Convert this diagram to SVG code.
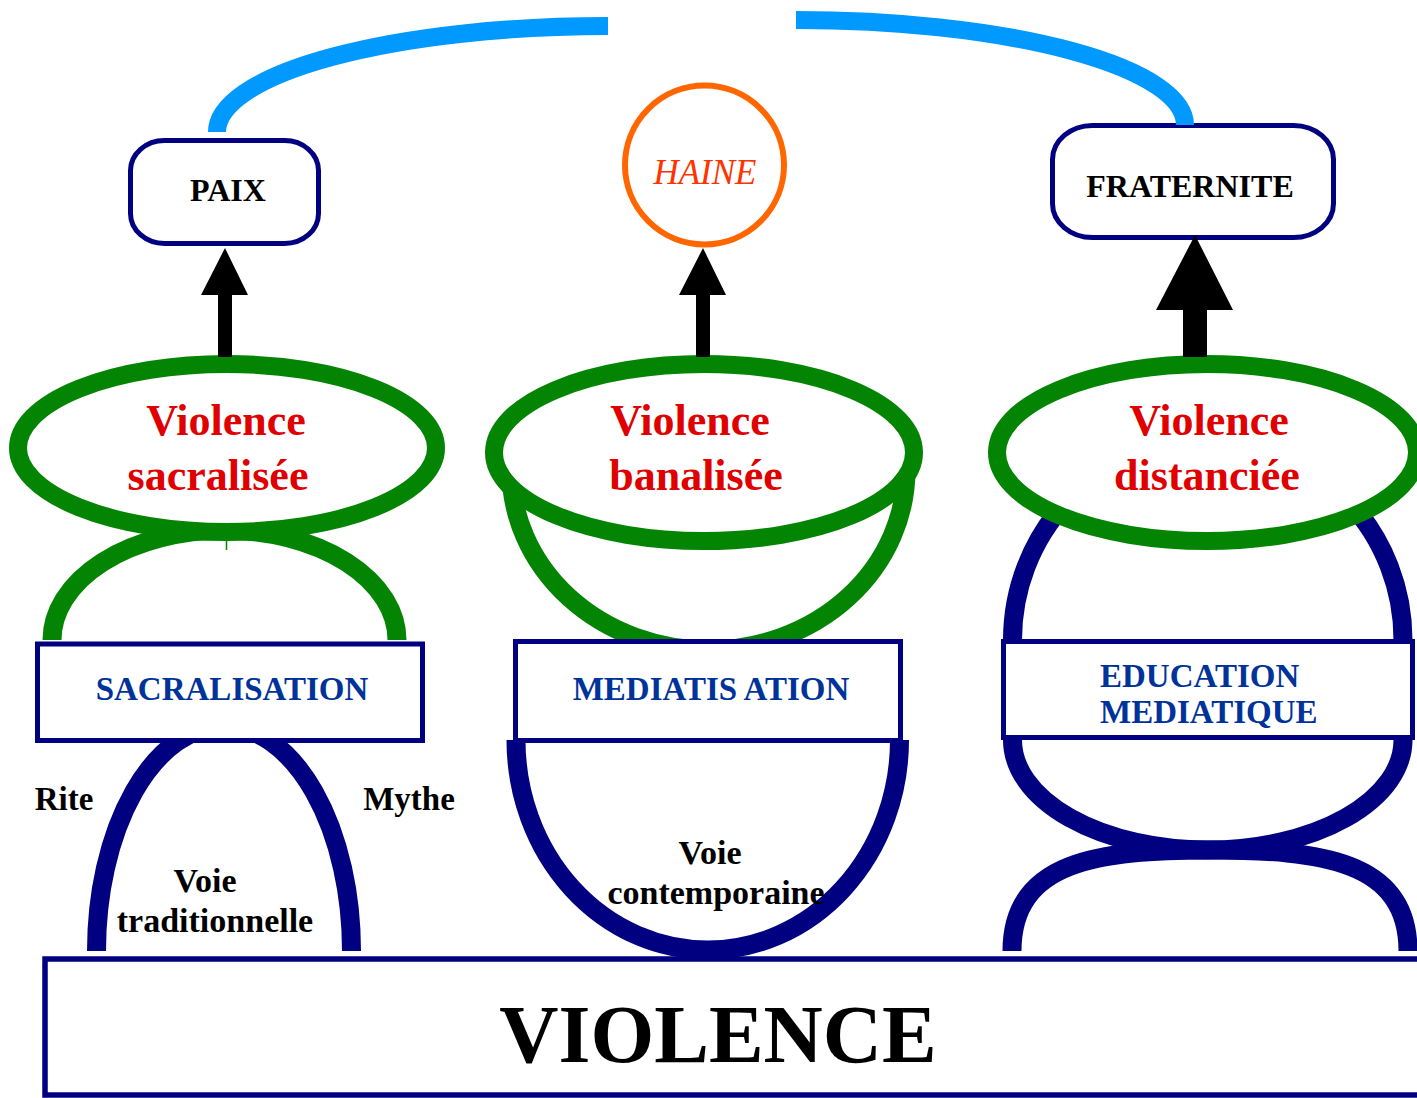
<svg xmlns="http://www.w3.org/2000/svg" width="1417" height="1098" viewBox="0 0 1417 1098">
<defs>
<style>
.blue{fill:none;stroke:#0099FF;stroke-width:18}
.navy{fill:none;stroke:#000080;stroke-width:19}
.green{fill:none;stroke:#038503;stroke-width:19}
.ell{fill:#fff;stroke:#038503;stroke-width:18}
.box{fill:#fff;stroke:#000080;stroke-width:5}
.arrow{fill:#000}
.t{font-family:"Liberation Serif","Times New Roman",serif;font-weight:bold;text-anchor:middle}
.vio{fill:#E00000;font-size:44px}
.lab{fill:#003399;font-size:33px}
.blk{fill:#000;font-size:32px}
.sm{fill:#000;font-size:34px}
</style>
</defs>
<rect width="1417" height="1098" fill="#fff"/>

<g id="links">
  <path class="green" d="M52 640 A172.5 110 0 0 1 397 640"/>
  <path class="green" d="M511 470 A197.5 180 0 0 0 906 470"/>
  <path class="navy" d="M1012.5 740 L1012.5 640 A195.25 200 0 0 1 1403 640 L1403 740"/>
  <path class="navy" d="M1012.5 740 A195.25 110 0 0 0 1403 740"/>
  <path class="navy" d="M1012 951 C1012 860 1100 850 1210 850 C1320 850 1408 860 1408 951"/>
  <path class="navy" d="M96.5 951 A127.5 225 0 0 1 351.5 951"/>
  <path class="navy" d="M516 740 A191.75 210 0 0 0 899.5 740"/>
</g>

<g id="node-sacralisee">
  <ellipse class="ell" cx="227" cy="448" rx="209" ry="84"/>
  <line x1="226.5" y1="532" x2="226.5" y2="550" stroke="#038503" stroke-width="1.5"/>
  <text class="t vio" x="226" y="435">Violence</text>
  <text class="t vio" x="218" y="490">sacralisée</text>
</g>
<g id="node-banalisee">
  <ellipse class="ell" cx="704" cy="452.5" rx="210" ry="88.5"/>
  <text class="t vio" x="690" y="435">Violence</text>
  <text class="t vio" x="696" y="490">banalisée</text>
</g>
<g id="node-distanciee">
  <ellipse class="ell" cx="1207" cy="452.5" rx="210" ry="88.5"/>
  <text class="t vio" x="1209" y="435">Violence</text>
  <text class="t vio" x="1207" y="490">distanciée</text>
</g>

<g id="node-paix">
  <rect class="box" x="130.5" y="140.5" width="188" height="103" rx="34" ry="30"/>
  <text class="t blk" x="228" y="201">PAIX</text>
</g>
<g id="node-haine">
  <circle cx="704.5" cy="165" r="79.5" fill="#fff" stroke="#FF6600" stroke-width="6"/>
  <text x="705" y="184" font-family="Liberation Serif, Times New Roman, serif" font-style="italic" font-size="35" fill="#FF3300" text-anchor="middle">HAINE</text>
</g>
<g id="node-fraternite">
  <rect class="box" x="1052.5" y="125.5" width="281" height="112" rx="40" ry="34"/>
  <text class="t blk" x="1190" y="197">FRATERNITE</text>
</g>

<g id="node-sacralisation">
  <rect class="box" x="37.5" y="644" width="385" height="96.5"/>
  <text class="t lab" x="232" y="700">SACRALISATION</text>
</g>
<g id="node-mediatisation">
  <rect class="box" x="515.5" y="641.5" width="385" height="99"/>
  <text class="t lab" x="711" y="700">MEDIATIS ATION</text>
</g>
<g id="node-education">
  <rect class="box" x="1003.5" y="641.5" width="409" height="96"/>
  <text class="t lab" x="1100" y="687" style="text-anchor:start">EDUCATION</text>
  <text class="t lab" x="1100" y="723" style="text-anchor:start">MEDIATIQUE</text>
</g>

<g id="labels">
  <text class="t sm" x="64" y="810" style="font-size:33px">Rite</text>
  <text class="t sm" x="409" y="810" style="font-size:33px">Mythe</text>
  <text class="t sm" x="205" y="892">Voie</text>
  <text class="t sm" x="215" y="932">traditionnelle</text>
  <text class="t sm" x="710" y="864">Voie</text>
  <text class="t sm" x="716" y="904">contemporaine</text>
</g>

<g id="node-violence">
  <rect x="45" y="959" width="1400" height="136" fill="#fff" stroke="#000080" stroke-width="5.5"/>
  <text class="t" x="718" y="1062" style="font-size:82px;fill:#000">VIOLENCE</text>
</g>

<g id="connectors">
  <path class="blue" d="M608 26 A391 106 0 0 0 217 132"/>
  <path class="blue" d="M796 20 A389 105 0 0 1 1185 125"/>
  <path class="arrow" d="M218 357 V295 H201 L225 248 L248 295 H232 V357 Z"/>
  <path class="arrow" d="M696 357 V295 H679 L703 248 L726 295 H710 V357 Z"/>
  <path class="arrow" d="M1183 357 V310 H1156 L1195 235 L1233 310 H1207 V357 Z"/>
</g>
</svg>
